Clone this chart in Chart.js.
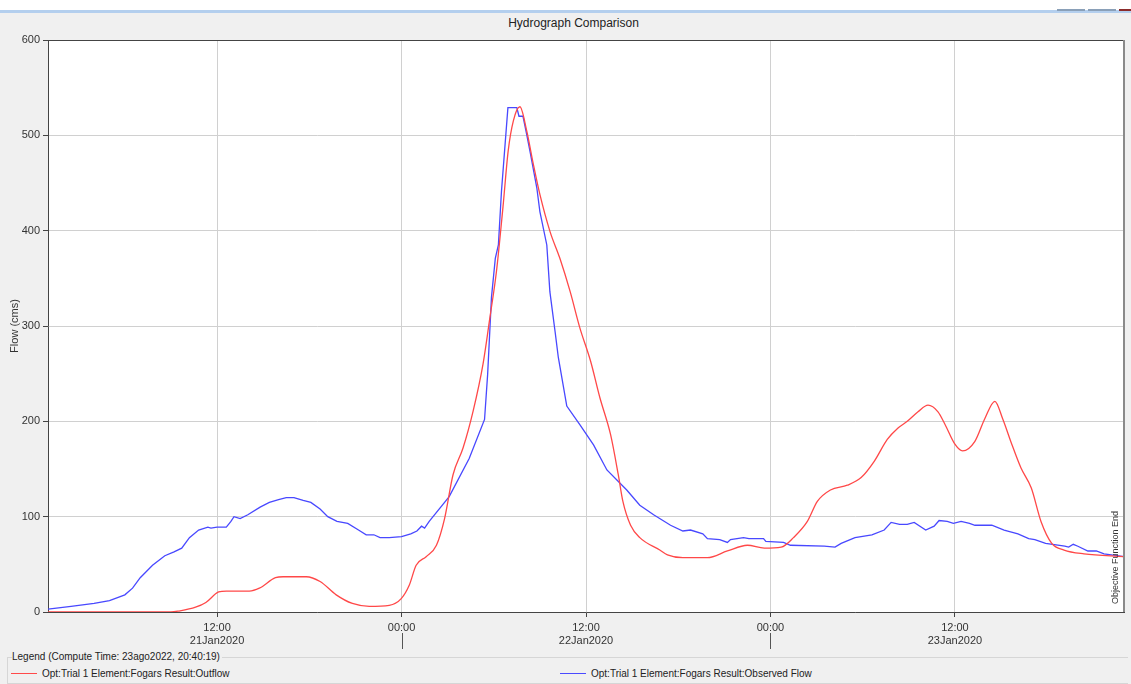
<!DOCTYPE html>
<html>
<head>
<meta charset="utf-8">
<script src="https://cdn.jsdelivr.net/npm/chart.js@4/dist/chart.umd.min.js"></script>
<style>
  body { margin: 0; width: 1131px; height: 684px; background: #f0f0f0; font-family: "Liberation Sans", Arial, sans-serif; overflow: hidden; position: relative; }
  .topwhite { position: absolute; left: 0; top: 0; width: 1131px; height: 10px; background: #fff; }
  .topbar { position: absolute; left: 0; top: 10px; width: 1131px; height: 3px; background: #b4cfee; }
  .winbtn { position: absolute; top: 9px; height: 2px; }
  .title { position: absolute; top: 16px; left: 0; width: 1147px; text-align: center; font-size: 12px; color: #222; }
  #wrap { position: absolute; left: 0; top: 30px; width: 1131px; height: 620px; }
  .legend { position: absolute; left: 7px; top: 657px; width: 1120px; height: 25px; border-left: 1px solid #d6d6d6; border-bottom: 1px solid #d6d6d6; border-top: 1px solid #d6d6d6; }
  .legtitle { position: absolute; left: 4px; top: -7px; background: #f0f0f0; font-size: 10px; color: #222; padding-right: 2px; }
  .item { position: absolute; top: 10px; font-size: 10px; color: #222; white-space: nowrap; }
  .item i { display: inline-block; width: 26px; height: 1px; vertical-align: middle; margin-right: 5px; position: relative; top: -1px; }
</style>
</head>
<body>
<div class="topwhite"></div>
<div class="topbar"></div>
<div class="winbtn" style="left:1057px;width:28px;background:#8aa0b8"></div>
<div class="winbtn" style="left:1088px;width:28px;background:#8aa0b8"></div>
<div class="winbtn" style="left:1119px;width:12px;background:#8b2b2b"></div>
<div class="title">Hydrograph Comparison</div>
<div id="wrap"><canvas id="chart"></canvas></div>
<div class="legend">
  <span class="legtitle">Legend (Compute Time: 23ago2022, 20:40:19)</span>
  <span class="item" style="left:3px"><i style="background:#ff4a4a"></i>Opt:Trial 1 Element:Fogars Result:Outflow</span>
  <span class="item" style="left:552px"><i style="background:#4a4aff"></i>Opt:Trial 1 Element:Fogars Result:Observed Flow</span>
</div>
<script>
// horas desde 21Jan2020 00:00
const outflowHours = [1, 5, 9.0, 9.5, 10.6, 11.27, 12.1, 12.6, 14.1, 14.75, 15.8, 16.3, 17.8, 18.7, 19.75, 20.8, 21.9, 23.2, 23.98, 24.5, 24.95, 25.6, 26.27, 26.8, 27.35, 28.0, 28.66, 29.3, 29.75, 30.18, 30.6, 30.94, 31.27, 31.7, 32.14, 32.57, 33.0, 33.66, 34.3, 34.97, 35.6, 36.3, 36.9, 37.6, 38.1, 38.4, 38.9, 39.5, 40.8, 41.3, 42.3, 43.9, 45.2, 46.5, 47.6, 48.7, 49.5, 50.4, 51.05, 51.9, 53.0, 53.9, 54.75, 55.6, 56.3, 56.9, 57.6, 58.25, 58.9, 59.35, 60.0, 60.5, 61.3, 61.95, 62.6, 63.1, 63.7, 64.3, 64.97, 65.6, 66.3, 67.1, 68.4, 71];
const outflowFlow = [0, 0, 0, 1, 5, 10, 21, 22, 22, 25, 36, 37, 37, 32, 18, 9, 6, 7, 14, 28, 49, 58, 70, 98, 144, 172, 211, 260, 309, 358, 425, 484, 515, 530, 505, 470, 438, 399, 371, 336, 298, 263, 225, 186, 144, 116, 91, 78, 65, 60, 57, 57, 64, 70, 67, 68, 78, 95, 116, 128, 133, 141, 158, 181, 193, 200, 210, 217, 210, 197, 176, 169, 179, 203, 221, 203, 176, 151, 130, 95, 72, 65, 61, 58];

const observedHours = [1, 2.5, 4.0, 5.0, 6.0, 6.5, 7.0, 7.8, 8.6, 9.2, 9.7, 10.2, 10.8, 11.4, 11.6, 12.0, 12.6, 12.9, 13.1, 13.5, 14.0, 14.8, 15.4, 16.0, 16.5, 17.0, 17.6, 18.1, 18.7, 19.2, 19.8, 20.5, 21.2, 21.7, 22.2, 22.6, 23.2, 24.0, 24.6, 25.0, 25.3, 25.5, 25.8, 27.1, 28.4, 29.4, 29.6, 29.85, 30.1, 30.3, 30.5, 30.92, 31.5, 31.64, 31.9, 32.14, 32.36, 32.8, 33.0, 33.45, 33.65, 33.99, 34.2, 34.75, 35.62, 36.5, 37.36, 38.65, 39.5, 40.4, 41.5, 42.3, 42.8, 43.6, 43.9, 44.7, 45.2, 45.4, 46.25, 46.6, 47.55, 47.7, 48.85, 49.3, 51.5, 52.2, 52.6, 53.5, 54.6, 55.4, 55.85, 56.4, 56.9, 57.35, 58.1, 58.65, 58.97, 59.5, 59.9, 60.4, 60.95, 61.3, 62.4, 63.2, 64.1, 64.8, 65.2, 65.9, 67.15, 67.4, 67.7, 68.0, 68.65, 69.2, 69.7, 71];
const observedFlow = [3, 6, 9, 12, 18, 25, 36, 49, 59, 63, 67, 78, 86, 89, 88, 89, 89, 95, 100, 98, 102, 110, 115, 118, 120, 120, 117, 115, 108, 100, 95, 93, 86, 81, 81, 78, 78, 79, 82, 85, 90, 88, 95, 121, 161, 202, 249, 330, 371, 385, 441, 529, 529, 520, 520, 501, 483, 445, 420, 385, 336, 294, 267, 216, 196, 175, 149, 128, 112, 102, 91, 85, 86, 82, 77, 76, 73, 76, 78, 77, 77, 74, 73, 70, 69, 68, 72, 78, 81, 86, 94, 92, 92, 94, 86, 90, 96, 95, 93, 95, 93, 91, 91, 86, 82, 77, 76, 72, 69, 68, 71, 69, 64, 64, 61, 58];

const tickHours = [12, 24, 36, 48, 60];
const tickTimes = ['12:00', '00:00', '12:00', '00:00', '12:00'];
const tickDates = ['21Jan2020', '', '22Jan2020', '', '23Jan2020'];
const flowTicks = [0, 100, 200, 300, 400, 500, 600];

function toPoints(hours, vals) {
	return hours.map((h, i) => ({ x: h, y: vals[i] }));
}

// fondo blanco, borde y separadores de dias
const framePlugin = {
	id: 'frame',
	beforeDraw(chart) {
		const a = chart.chartArea, ctx = chart.ctx;
		ctx.save();
		ctx.fillStyle = '#ffffff';
		ctx.fillRect(a.left, a.top, a.right - a.left, a.bottom - a.top);
		ctx.restore();
	},
	afterDraw(chart) {
		const a = chart.chartArea, ctx = chart.ctx;
		const xs = chart.scales.x;
		ctx.save();
		ctx.strokeStyle = '#444';
		ctx.lineWidth = 1;
		ctx.beginPath();
		ctx.moveTo(a.left, a.top + 0.5);
		ctx.lineTo(a.right, a.top + 0.5);
		ctx.stroke();
		ctx.strokeStyle = '#8a8a8a';
		ctx.lineWidth = 2;
		ctx.beginPath();
		ctx.moveTo(a.right, a.top);
		ctx.lineTo(a.right, a.bottom);
		ctx.stroke();
		// separador de dia bajo 00:00
		ctx.strokeStyle = '#555';
		ctx.lineWidth = 1;
		tickHours.forEach((h, i) => {
			if (tickDates[i] === '') {
				const px = Math.round(xs.getPixelForValue(h)) + 0.5;
				ctx.beginPath();
				ctx.moveTo(px, a.bottom + 21);
				ctx.lineTo(px, a.bottom + 37);
				ctx.stroke();
			}
		});
		// texto de fin de funcion objetivo
		ctx.translate(a.right - 4, a.bottom - 8);
		ctx.rotate(-Math.PI / 2);
		ctx.fillStyle = '#333';
		ctx.font = '9px "Liberation Sans", Arial, sans-serif';
		ctx.textAlign = 'left';
		ctx.textBaseline = 'bottom';
		ctx.fillText('Objective Function End', 0, 0);
		ctx.restore();
	}
};

const data = {
	datasets: [{
		label: 'Opt:Trial 1 Element:Fogars Result:Outflow',
		data: toPoints(outflowHours, outflowFlow),
		borderColor: '#ff4848',
		borderWidth: 1.3,
		pointRadius: 0,
		cubicInterpolationMode: 'monotone',
		fill: false
	}, {
		label: 'Opt:Trial 1 Element:Fogars Result:Observed Flow',
		data: toPoints(observedHours, observedFlow),
		borderColor: '#4848ff',
		borderWidth: 1.3,
		pointRadius: 0,
		tension: 0,
		fill: false
	}]
};

const tickFont = { family: '"Liberation Sans", Arial, sans-serif', size: 11 };

const config = {
	type: 'line',
	data: data,
	plugins: [framePlugin],
	options: {
		responsive: true,
		maintainAspectRatio: false,
		animation: false,
		layout: { padding: { top: 10, right: 7, left: 0, bottom: 0 } },
		plugins: {
			legend: { display: false },
			title: { display: false },
			tooltip: { enabled: false }
		},
		scales: {
			x: {
				type: 'linear',
				min: 1,
				max: 71,
				afterBuildTicks: (scale) => { scale.ticks = tickHours.map(v => ({ value: v })); },
				afterFit: (scale) => { scale.height = 38; },
				ticks: {
					autoSkip: false,
					maxRotation: 0,
					padding: 4,
					color: '#333',
					font: tickFont,
					callback: (value) => {
						const i = tickHours.indexOf(value);
						return [tickTimes[i], tickDates[i]];
					}
				},
				grid: { color: '#d0d0d0', tickColor: '#444', tickLength: 5, drawTicks: true },
				border: { color: '#444', width: 1 }
			},
			y: {
				min: 0,
				max: 600,
				afterBuildTicks: (scale) => { scale.ticks = flowTicks.map(v => ({ value: v })); },
				afterFit: (scale) => { scale.width = 48; },
				title: {
					display: true,
					text: 'Flow (cms)',
					color: '#333',
					font: tickFont,
					padding: { top: 8, bottom: 0 }
				},
				ticks: { color: '#333', font: tickFont, padding: 3 },
				grid: { color: '#d0d0d0', tickColor: '#444', tickLength: 5, drawTicks: true },
				border: { color: '#444', width: 1 }
			}
		}
	}
};

new Chart(document.getElementById('chart'), config);
</script>
</body>
</html>
